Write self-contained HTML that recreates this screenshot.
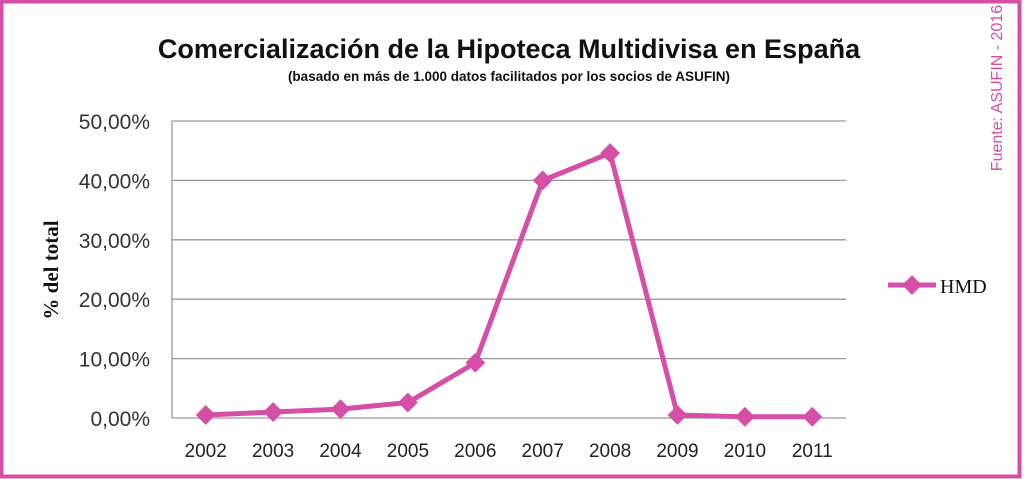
<!DOCTYPE html>
<html><head><meta charset="utf-8">
<style>
html,body{margin:0;padding:0;background:#fff;}
#wrap{position:relative;width:1024px;height:479px;overflow:hidden;}
svg{display:block;}
</style></head>
<body>
<div id="wrap">
<svg id="chart" width="1024" height="479" xmlns="http://www.w3.org/2000/svg">
  <rect x="1.5" y="1.5" width="1018" height="475" fill="#fff" stroke="#d54fa6" stroke-width="4"/>
  <text x="509" y="58" text-anchor="middle" font-family="'Liberation Sans',sans-serif" font-size="27" font-weight="bold" fill="#111">Comercialización de la Hipoteca Multidivisa en España</text>
  <text x="509" y="81" text-anchor="middle" font-family="'Liberation Sans',sans-serif" font-size="13.5" font-weight="bold" fill="#111">(basado en más de 1.000 datos facilitados por los socios de ASUFIN)</text>
  <text transform="translate(1002,88) rotate(-90)" text-anchor="middle" font-family="'Liberation Sans',sans-serif" font-size="16" fill="#d54fa6">Fuente: ASUFIN - 2016</text>
  <text transform="translate(58,270) rotate(-90)" text-anchor="middle" font-family="'Liberation Serif',serif" font-size="21" font-weight="bold" fill="#111">% del total</text>
  <g id="grid"></g>
  <g id="yticks"></g>
  <g id="xticks"></g>
  <g id="series"></g>
  <g>
    <line x1="888" y1="285" x2="936" y2="285" stroke="#d54fa6" stroke-width="5"/>
    <rect x="905" y="278" width="14" height="14" fill="#d54fa6" transform="rotate(45 912 285)"/>
    <text x="940" y="293" font-family="'Liberation Serif',serif" font-size="20" fill="#111">HMD</text>
  </g>
</svg>
</div>
<script>
const categories = ["2002","2003","2004","2005","2006","2007","2008","2009","2010","2011"];
const hmdValues = [0.5, 1.0, 1.5, 2.6, 9.3, 40.0, 44.6, 0.5, 0.2, 0.2];
const yTickValues = [0, 10, 20, 30, 40, 50];
const yTickLabels = ["0,00%","10,00%","20,00%","30,00%","40,00%","50,00%"];

const NS = "http://www.w3.org/2000/svg";
const plotL = 172, plotR = 846, plotT = 121, plotB = 418, yMax = 50;
const step = (plotR - plotL) / categories.length;
function xScale(i){ return plotL + step * (i + 0.5); }
function yScale(v){ return plotB - (v / yMax) * (plotB - plotT); }
function mk(tag, attrs){ const e = document.createElementNS(NS, tag); for (const k in attrs) e.setAttribute(k, attrs[k]); return e; }

const grid = document.getElementById('grid');
const yt = document.getElementById('yticks');
yTickValues.forEach((v, i) => {
  const y = yScale(v);
  const ln = mk('line', {x1: plotL, x2: plotR, y1: y, y2: y, stroke: '#9a9a9a', 'stroke-width': 1.3});
  
  
  grid.appendChild(ln);
  const t = mk('text', {x: 150, y: y + 8, 'text-anchor': 'end', 'font-family': "'Liberation Sans',sans-serif", 'font-size': 21, fill: '#333'});
  t.textContent = yTickLabels[i];
  
  
  yt.appendChild(t);
});
const axis = mk('line', {x1: plotL, x2: plotL, y1: plotT, y2: plotB, stroke: '#9a9a9a', 'stroke-width': 1.3});


grid.appendChild(axis);

const xt = document.getElementById('xticks');
categories.forEach((c, i) => {
  const t = mk('text', {x: xScale(i), y: 457, 'text-anchor': 'middle', 'font-family': "'Liberation Sans',sans-serif", 'font-size': 19, fill: '#222'});
  t.textContent = c;
  
  
  xt.appendChild(t);
});

const ser = document.getElementById('series');
const pts = hmdValues.map((v, i) => xScale(i) + ',' + yScale(v)).join(' ');
const pl = mk('polyline', {points: pts, fill: 'none', stroke: '#d54fa6', 'stroke-width': 5, 'stroke-linejoin': 'round'});


ser.appendChild(pl);
hmdValues.forEach((v, i) => {
  const x = xScale(i), y = yScale(v);
  const m = mk('rect', {x: x - 7, y: y - 7, width: 14, height: 14, fill: '#d54fa6', transform: `rotate(45 ${x} ${y})`});
  
  
  ser.appendChild(m);
});
</script>
</body></html>
